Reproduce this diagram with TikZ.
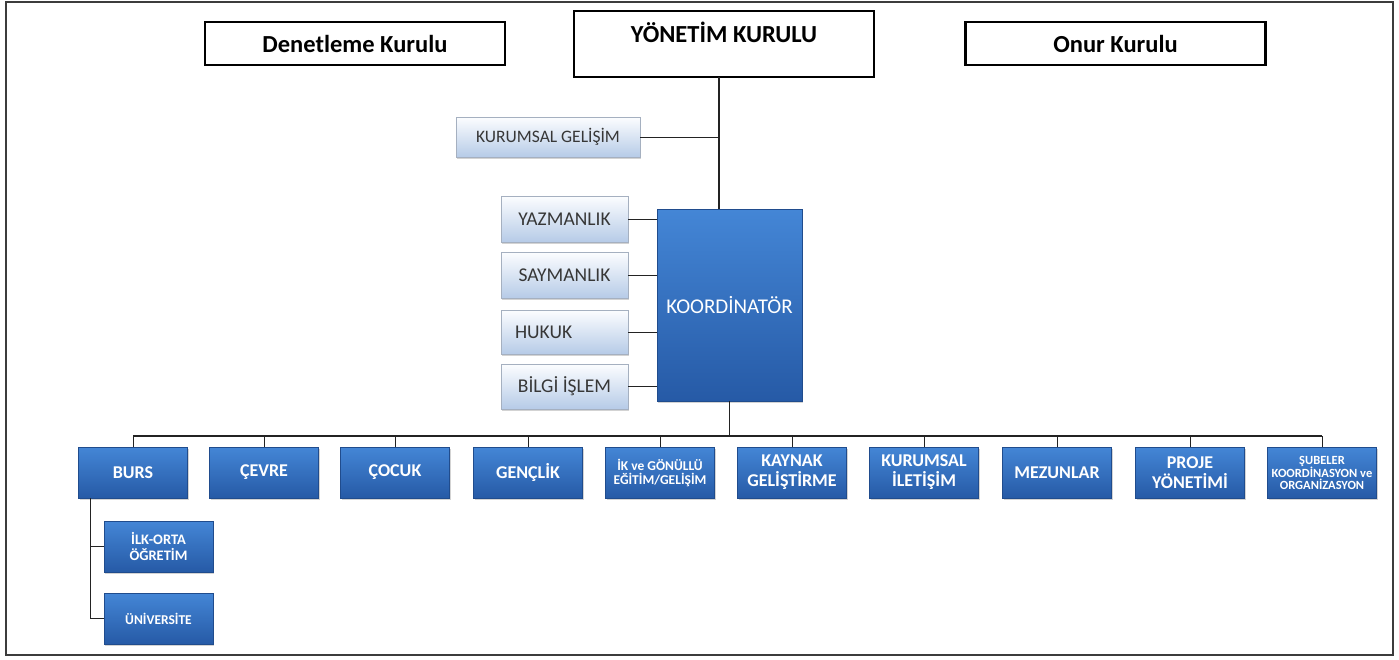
\documentclass[tikz,border=0pt]{standalone}
\usepackage{fontspec}
\setmainfont{Carlito}
\usetikzlibrary{shadows,calc}
\definecolor{bluetop}{RGB}{68,134,214}
\definecolor{bluebot}{RGB}{38,90,166}
\definecolor{lighttop}{RGB}{252,253,255}
\definecolor{lightbot}{RGB}{182,203,231}
\definecolor{lightline}{RGB}{165,176,192}
\definecolor{lighttext}{RGB}{55,55,55}
\definecolor{framecol}{RGB}{60,60,60}
\definecolor{conn}{RGB}{35,35,35}
\begin{document}
\begin{tikzpicture}[x=1pt,y=-1pt,
  topbox/.style={draw=black, line width=2.2pt, fill=white, minimum width=300pt, minimum height=43pt, inner sep=0pt, font=\fontsize{24.5}{29}\selectfont\bfseries},
  lightbox/.style={draw=lightline, line width=0.6pt, top color=lighttop, bottom color=lightbot, text=lighttext, inner sep=0pt, font=\fontsize{17.5}{21}\selectfont, drop shadow={opacity=0.35, shadow xshift=1.2pt, shadow yshift=-2.4pt}},
  staff/.style={lightbox, font=\fontsize{19.5}{23}\selectfont},
  bluebox/.style={draw=bluebot!85!black, line width=0.4pt, top color=bluetop, bottom color=bluebot, text=white, inner sep=0pt, align=center, minimum width=109pt, minimum height=51pt, font=\fontsize{18}{20}\selectfont\bfseries, drop shadow={opacity=0.35, shadow xshift=1.2pt, shadow yshift=-2.4pt}},
  conline/.style={draw=conn, line width=1pt},
]
\useasboundingbox (0,0) rectangle (1399,659);
\draw[framecol, line width=1.6pt] (6,2) rectangle (1393,655);

% top boxes
\node[topbox] (den) at (355,43.5) {Denetleme Kurulu};
\node[topbox, minimum height=0pt, text height=31pt, text depth=35pt] (yon) at (724,44) {YÖNETİM KURULU};
\node[topbox] (onr) at (1115.5,43.5) {Onur Kurulu};

% staff boxes
\node[lightbox, minimum width=184pt, minimum height=40pt] (kg) at (548,137) {KURUMSAL GELİŞİM};
\node[staff, minimum width=127pt, minimum height=46pt] (yaz) at (564.5,219) {YAZMANLIK};
\node[staff, minimum width=127pt, minimum height=46pt] (say) at (564.5,275) {SAYMANLIK};
\node[staff, minimum height=44pt, text width=99pt, inner xsep=14pt, align=left] (huk) at (564.5,332) {HUKUK};
\node[staff, minimum width=127pt, minimum height=45pt] (bil) at (564.5,386.5) {BİLGİ İŞLEM};

% coordinator
\node[bluebox, minimum width=145pt, minimum height=192pt, font=\fontsize{21}{24}\selectfont] (koord) at (729.5,305) {KOORDİNATÖR};

% trunk from board to coordinator
\coordinate (trunk) at (719,77);
\draw[conn, line width=2.6pt] (trunk) -- (trunk |- koord.north);
\draw[conline] (kg.east) -- (kg.east -| trunk);

\foreach \n in {yaz,say,huk,bil}{
  \draw[conline] (\n.east) -- (\n.east -| koord.west);
}

% departments
\node[bluebox] (burs) at (133,472.5) {BURS};
\node[bluebox] (cevre) at (264,472.5) {ÇEVRE};
\node[bluebox] (cocuk) at (395,472.5) {ÇOCUK};
\node[bluebox] (genc) at (528,472.5) {GENÇLİK};
\node[bluebox, font=\fontsize{13.5}{14}\selectfont\bfseries] (ik) at (660,472.5) {İK ve GÖNÜLLÜ\\EĞİTİM/GELİŞİM};
\node[bluebox] (kay) at (792,472.5) {KAYNAK\\GELİŞTİRME};
\node[bluebox] (kil) at (924,472.5) {KURUMSAL\\İLETİŞİM};
\node[bluebox] (mez) at (1057,472.5) {MEZUNLAR};
\node[bluebox] (pro) at (1190,472.5) {PROJE\\YÖNETİMİ};
\node[bluebox, font=\fontsize{12.5}{11.5}\selectfont\bfseries] (sub) at (1322,472.5) {ŞUBELER\\KOORDİNASYON ve\\ORGANİZASYON};

% bus
\coordinate (bus) at (729.5,436);
\draw[conn, line width=1.8pt] (koord.south) -- (bus);
\draw[conn, line width=1.4pt] (burs.north |- bus) -- (sub.north |- bus);
\foreach \n in {burs,cevre,cocuk,genc,ik,kay,kil,mez,pro,sub}{
  \draw[conline] (\n.north |- bus) -- (\n.north);
}

% scholarship sub-units
\node[bluebox, font=\fontsize{14.5}{16}\selectfont\bfseries] (ilk) at (158.5,546.5) {İLK-ORTA\\ÖĞRETİM};
\node[bluebox, font=\fontsize{13.5}{16}\selectfont\bfseries] (uni) at (158.5,618.5) {ÜNİVERSİTE};
\coordinate (bdrop) at ($(burs.south west)+(12,0)$);
\draw[conline] (bdrop) -- (bdrop |- uni.west) -- (uni.west);
\draw[conline] (bdrop |- ilk.west) -- (ilk.west);
\end{tikzpicture}
\end{document}
